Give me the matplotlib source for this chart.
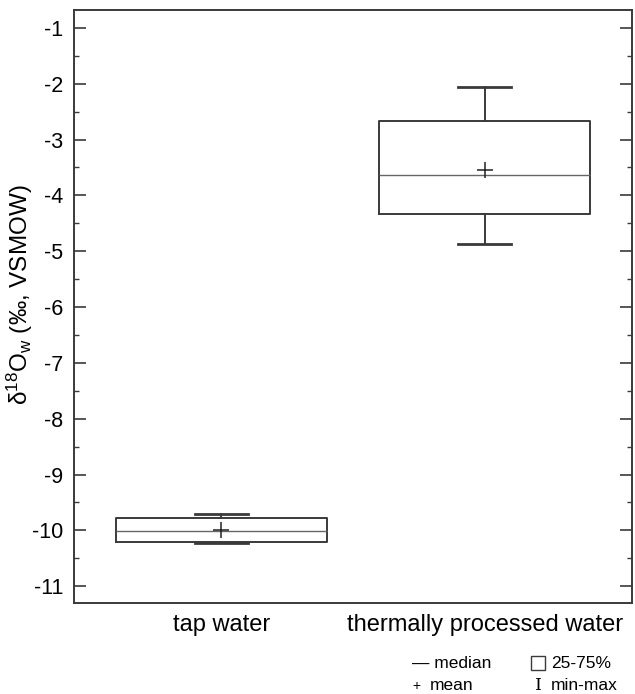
import matplotlib
matplotlib.use("Agg")
import matplotlib.pyplot as plt
from matplotlib.patches import Rectangle
from matplotlib.ticker import MultipleLocator

categories = ["tap water", "thermally processed water"]
minimum = [-10.23, -4.87]
q1 = [-10.21, -4.34]
median = [-10.01, -3.63]
q3 = [-9.77, -2.66]
maximum = [-9.70, -2.06]
mean = [-10.00, -3.54]
yticks = [-1, -2, -3, -4, -5, -6, -7, -8, -9, -10, -11]

plt.rcParams['font.family'] = ['Liberation Sans', 'DejaVu Sans']
plt.rcParams['mathtext.fontset'] = 'custom'
plt.rcParams['mathtext.rm'] = 'Liberation Sans'
col = '#3a3a3a'

fig = plt.figure(figsize=(6.35, 6.94), dpi=100)
ax = fig.add_axes([74/635, 1-603/694, (632-74)/635, (603-10)/694])

stats = []
for i, c in enumerate(categories):
    stats.append(dict(label=c, whislo=minimum[i], q1=q1[i], med=median[i],
                      q3=q3[i], whishi=maximum[i], mean=mean[i], fliers=[]))

ax.bxp(stats, positions=[1, 2], widths=0.8, capwidths=0.2, showmeans=True,
       boxprops=dict(color=col, linewidth=1.4),
       whiskerprops=dict(color=col, linewidth=1.4),
       capprops=dict(color=col, linewidth=2.0),
       medianprops=dict(color='#666666', linewidth=1.0),
       meanprops=dict(marker='+', markeredgecolor='#222222', markersize=11, markeredgewidth=1.1),
       showfliers=False)

ax.set_xlim(0.44, 2.56)
ax.set_ylim(-11.3, -0.68)
ax.set_yticks(yticks)
ax.set_yticklabels([str(v) for v in yticks])
ax.yaxis.set_minor_locator(MultipleLocator(0.5))
ax.tick_params(axis='y', which='major', direction='in', length=8.6, width=1.2,
               left=True, right=True, labelsize=15.5, color=col, pad=8)
ax.tick_params(axis='y', which='minor', direction='in', length=3.6, width=1.0,
               left=True, right=True, color=col)
ax.tick_params(axis='x', which='both', length=0, labelsize=17, pad=8)
for s in ax.spines.values():
    s.set_color(col)
    s.set_linewidth(1.4)

fig.text(20/635, 1-295/694, r'δ$\mathregular{^{18}}$O$\mathregular{_{w}}$ (‰, VSMOW)', rotation=90,
         ha='center', va='center', fontsize=17.5)

# legend
fs = 12.5
fig.text(412/635, 1-663/694, '— median', ha='left', va='center', fontsize=fs)
fig.text(412/635, 1-686/694, '+', ha='left', va='center', fontsize=10)
fig.text(430/635, 1-686/694, 'mean', ha='left', va='center', fontsize=fs)
fig.patches.append(Rectangle((531/635, 1-670/694), 14/635, 14/694, transform=fig.transFigure,
                             fill=False, edgecolor=col, linewidth=1.0))
fig.text(551/635, 1-663/694, '25-75%', ha='left', va='center', fontsize=fs)
fig.text(538/635, 1-686/694, 'I', ha='center', va='center', fontsize=fs, family='DejaVu Serif', fontweight='light')
fig.text(551/635, 1-686/694, 'min-max', ha='left', va='center', fontsize=fs)

fig.savefig('out.png', dpi=100, facecolor='white')
